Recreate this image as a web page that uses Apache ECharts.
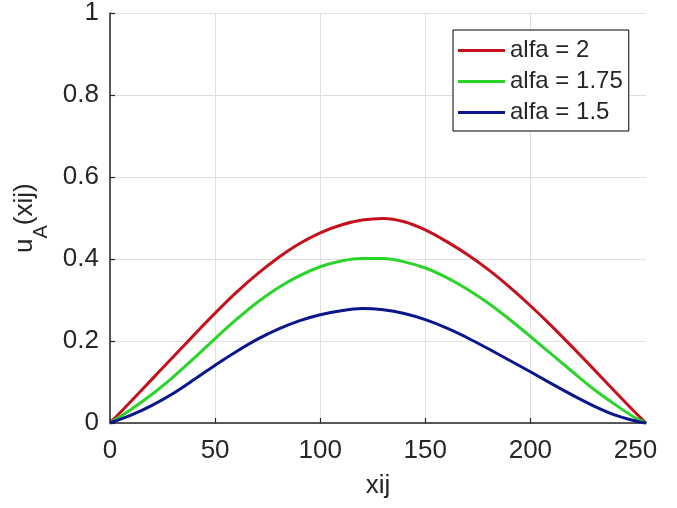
<!DOCTYPE html>
<html>
<head>
<meta charset="utf-8">
<script src="https://cdn.jsdelivr.net/npm/echarts@6/dist/echarts.min.js"></script>
<style>html,body{margin:0;padding:0;background:#fff;}#main{width:677px;height:508px;}</style>
</head>
<body>
<div id="main"></div>
<script>
var xValues = [0, 10, 20, 30, 40, 50, 60, 70, 80, 90, 100, 110, 120, 130, 140, 150, 160, 170, 180, 190, 200, 210, 220, 230, 240, 250, 255];
var alfa2   = [0, 0.053, 0.107, 0.161, 0.215, 0.268, 0.318, 0.363, 0.403, 0.437, 0.464, 0.483, 0.495, 0.499, 0.491, 0.471, 0.443, 0.411, 0.374, 0.332, 0.286, 0.237, 0.185, 0.132, 0.078, 0.025, 0];
var alfa175 = [0, 0.033, 0.070, 0.112, 0.158, 0.206, 0.252, 0.294, 0.330, 0.359, 0.381, 0.395, 0.401, 0.401, 0.393, 0.378, 0.355, 0.326, 0.292, 0.253, 0.211, 0.168, 0.125, 0.083, 0.046, 0.012, 0];
var alfa15  = [0, 0.019, 0.043, 0.072, 0.106, 0.141, 0.174, 0.204, 0.229, 0.249, 0.264, 0.274, 0.279, 0.276, 0.267, 0.252, 0.232, 0.208, 0.181, 0.153, 0.125, 0.096, 0.068, 0.042, 0.020, 0.005, 0];
var seriesNames = ['alfa = 2', 'alfa = 1.75', 'alfa = 1.5'];
var xTicks = [0, 50, 100, 150, 200, 250];

function pairs(ys) { return xValues.map(function (x, i) { return [x, ys[i]]; }); }

var FONT = 'Liberation Sans, Arial, sans-serif';
var TXT = '#262626';
var colors = ['#c4111b', '#2bd42b', '#0a168c'];
var allData = [alfa2, alfa175, alfa15];

var chart = echarts.init(document.getElementById('main'));
chart.setOption({
  animation: false,
  backgroundColor: '#fff',
  textStyle: { fontFamily: FONT },
  grid: { left: 110, top: 13, right: 31, bottom: 85, containLabel: false },
  legend: {
    orient: 'vertical',
    left: 453,
    top: 30,
    padding: [5, 6, 3, 5],
    itemGap: 0,
    itemWidth: 47,
    itemHeight: 3,
    icon: 'rect',
    backgroundColor: '#fff',
    borderColor: '#000',
    borderWidth: 1,
    borderRadius: 0,
    textStyle: { fontFamily: FONT, fontSize: 24, color: TXT, lineHeight: 31 },
    data: seriesNames
  },
  xAxis: {
    type: 'value',
    min: 0,
    max: 255,
    interval: 50,
    name: 'xij',
    nameLocation: 'middle',
    nameGap: 50,
    nameTextStyle: { fontFamily: FONT, fontSize: 26, color: TXT, lineHeight: 26 },
    axisLine: { show: true, onZero: false, lineStyle: { color: TXT, width: 1.5 } },
    axisTick: { show: true, inside: true, length: 5, customValues: xTicks, lineStyle: { color: TXT, width: 1.2 } },
    axisLabel: { fontFamily: FONT, fontSize: 26, color: TXT, margin: 15, lineHeight: 26, customValues: xTicks },
    splitLine: { show: true, showMaxLine: false, lineStyle: { color: '#e0e0e0', width: 1 } }
  },
  yAxis: {
    type: 'value',
    min: 0,
    max: 1,
    interval: 0.2,
    name: '{u|u}{s|A}{u|(xij)}{h| }',
    nameLocation: 'middle',
    nameGap: 52,
    nameTextStyle: {
      fontFamily: FONT, color: TXT,
      rich: {
        u: { fontFamily: FONT, fontSize: 26, lineHeight: 26, verticalAlign: 'top', color: TXT },
        s: { fontFamily: FONT, fontSize: 20, lineHeight: 20, verticalAlign: 'bottom', color: TXT },
        h: { fontFamily: FONT, fontSize: 1, lineHeight: 40, verticalAlign: 'bottom', color: TXT }
      }
    },
    axisLine: { show: true, lineStyle: { color: TXT, width: 1.5 } },
    axisTick: { show: true, inside: true, length: 5, lineStyle: { color: TXT, width: 1.2 } },
    axisLabel: { fontFamily: FONT, fontSize: 26, color: TXT, margin: 11, padding: [4, 0, 0, 0] },
    splitLine: { show: true, lineStyle: { color: '#e0e0e0', width: 1 } }
  },
  series: seriesNames.map(function (n, i) {
    return {
      name: n,
      type: 'line',
      data: pairs(allData[i]),
      smooth: 0.3,
      showSymbol: false,
      symbol: 'none',
      clip: false,
      color: colors[i],
      lineStyle: { color: colors[i], width: 3 }
    };
  })
});
</script>
</body>
</html>
